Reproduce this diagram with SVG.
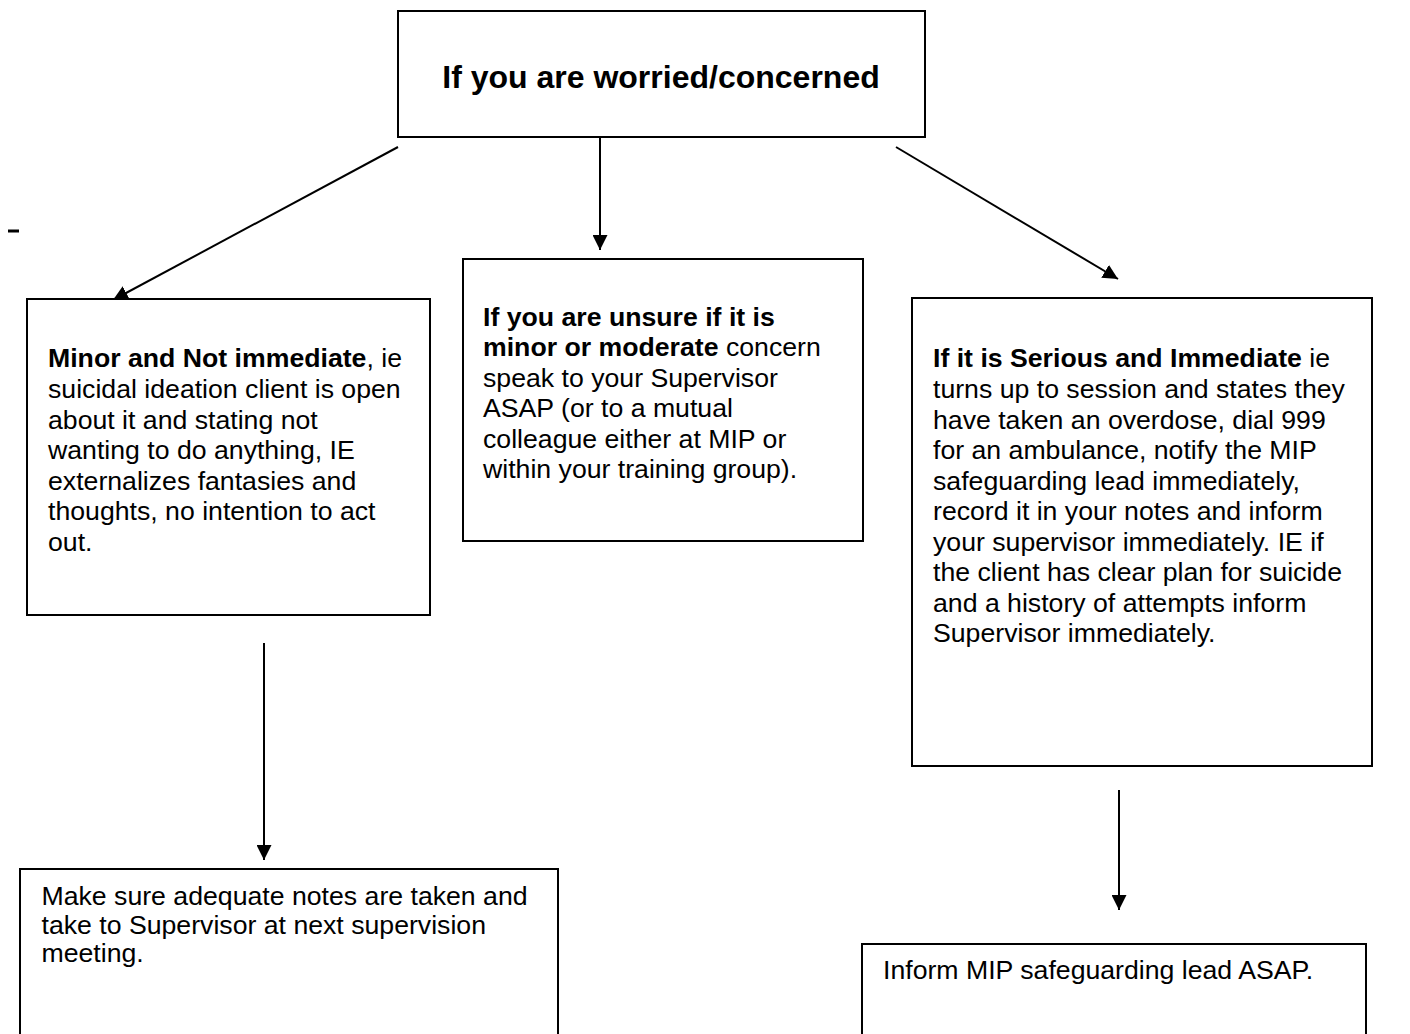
<svg xmlns="http://www.w3.org/2000/svg" width="1410" height="1034" viewBox="0 0 1410 1034">
<style>
.box{fill:#fff;stroke:#000;stroke-width:2}
.t{font-family:"Liberation Sans",Arial,sans-serif;font-size:26.67px;fill:#000}
.b{font-weight:bold}
.title{font-family:"Liberation Sans",Arial,sans-serif;font-size:32px;font-weight:bold;fill:#000}
.ln{stroke:#000;stroke-width:2;fill:none}
</style>
<defs>
<marker id="ah" markerUnits="userSpaceOnUse" markerWidth="15" markerHeight="15" refX="15" refY="7.5" orient="auto">
<path d="M0,0 L15,7.5 L0,15 z" fill="#000"/>
</marker>
</defs>
<rect width="1410" height="1034" fill="#fff"/>
<rect x="8" y="229.5" width="11" height="3" fill="#000"/>
<g id="connectors">
<line class="ln" x1="398" y1="147" x2="113" y2="300" marker-end="url(#ah)"/>
<line class="ln" x1="600" y1="137" x2="600" y2="250" marker-end="url(#ah)"/>
<line class="ln" x1="896" y1="147" x2="1118" y2="279" marker-end="url(#ah)"/>
<line class="ln" x1="264" y1="643" x2="264" y2="860" marker-end="url(#ah)"/>
<line class="ln" x1="1119" y1="790" x2="1119" y2="910" marker-end="url(#ah)"/>
</g>
<g id="node-top">
<rect class="box" x="398" y="11" width="527" height="126"/>
<text class="title" x="661" y="88" text-anchor="middle">If you are worried/concerned</text>
</g>
<g id="node-minor">
<rect class="box" x="27" y="299" width="403" height="316"/>
<text class="t">
<tspan x="48" y="367"><tspan class="b">Minor and Not immediate</tspan>, ie</tspan>
<tspan x="48" y="398">suicidal ideation client is open</tspan>
<tspan x="48" y="428.5">about it and stating not</tspan>
<tspan x="48" y="459">wanting to do anything, IE</tspan>
<tspan x="48" y="489.5">externalizes fantasies and</tspan>
<tspan x="48" y="520">thoughts, no intention to act</tspan>
<tspan x="48" y="550.5">out.</tspan>
</text>
</g>
<g id="node-unsure">
<rect class="box" x="463" y="259" width="400" height="282"/>
<text class="t">
<tspan x="483" y="326" class="b">If you are unsure if it is</tspan>
<tspan x="483" y="356.4"><tspan class="b">minor or moderate</tspan> concern</tspan>
<tspan x="483" y="386.8">speak to your Supervisor</tspan>
<tspan x="483" y="417.2">ASAP (or to a mutual</tspan>
<tspan x="483" y="447.6">colleague either at MIP or</tspan>
<tspan x="483" y="478">within your training group).</tspan>
</text>
</g>
<g id="node-serious">
<rect class="box" x="912" y="298" width="460" height="468"/>
<text class="t">
<tspan x="933" y="367"><tspan class="b">If it is Serious and Immediate</tspan> ie</tspan>
<tspan x="933" y="398">turns up to session and states they</tspan>
<tspan x="933" y="428.5">have taken an overdose, dial 999</tspan>
<tspan x="933" y="459">for an ambulance, notify the MIP</tspan>
<tspan x="933" y="489.5">safeguarding lead immediately,</tspan>
<tspan x="933" y="520">record it in your notes and inform</tspan>
<tspan x="933" y="550.5">your supervisor immediately. IE if</tspan>
<tspan x="933" y="581">the client has clear plan for suicide</tspan>
<tspan x="933" y="611.5">and a history of attempts inform</tspan>
<tspan x="933" y="642">Supervisor immediately.</tspan>
</text>
</g>
<g id="node-notes">
<rect class="box" x="20" y="869" width="538" height="180"/>
<text class="t">
<tspan x="41.5" y="905">Make sure adequate notes are taken and</tspan>
<tspan x="41.5" y="933.5">take to Supervisor at next supervision</tspan>
<tspan x="41.5" y="962">meeting.</tspan>
</text>
</g>
<g id="node-inform">
<rect class="box" x="862" y="944" width="504" height="110"/>
<text class="t" x="883" y="979">Inform MIP safeguarding lead ASAP.</text>
</g>
</svg>
